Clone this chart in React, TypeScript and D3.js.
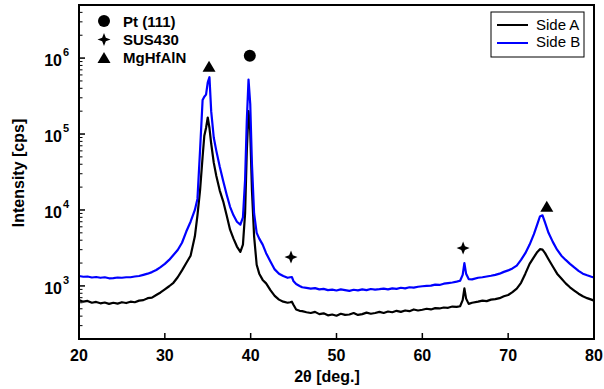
import React from "react";
import * as d3 from "d3";

// 2θ positions (deg.) shared by both scans
const twoTheta = [
  20, 20.5, 21, 21.5, 22, 22.5, 23, 23.5, 24, 24.5, 25, 25.5, 26, 26.5, 27, 27.5, 28, 28.5, 29, 29.5, 30, 30.5, 31,
  31.5, 32, 32.5, 33, 33.5, 33.8, 34.1, 34.4, 34.6, 34.8, 35.0, 35.2, 35.4, 35.7, 36.0, 36.4, 36.8, 37.2, 37.6, 38.0,
  38.4, 38.8, 39.1, 39.35, 39.55, 39.75, 39.95, 40.15, 40.4, 40.7, 41.0, 41.4, 41.8, 42.3, 42.8, 43.3, 43.8, 44.3,
  44.6, 44.8, 45.0, 45.3, 45.7,
  46, 46.5, 47, 47.5, 48, 48.5, 49, 49.5, 50, 50.5, 51, 51.5, 52, 52.5, 53, 53.5, 54, 54.5, 55, 55.5, 56, 56.5, 57,
  57.5, 58, 58.5, 59, 59.5, 60, 60.5, 61, 61.5, 62, 62.5, 63, 63.5, 64,
  64.4, 64.7, 64.9, 65.1, 65.4, 65.8, 66.5, 67, 67.5, 68, 68.5, 69, 69.5, 70, 70.5, 71,
  71.5, 72, 72.5, 73, 73.4, 73.7, 74.0, 74.3, 74.7, 75.2, 75.7, 76.2, 76.7, 77.2, 77.7, 78.2, 78.7, 79.2, 79.7, 80,
];

const sideA = [
  650, 620, 635, 600, 615, 590, 605, 580, 600, 585, 610, 595, 620, 610, 640, 650, 690, 700, 760, 820, 900, 990, 1100,
  1300, 1600, 2000, 2500, 4500, 8500, 18000, 50000, 95000, 120000, 165000, 120000, 75000, 42000, 28000, 18000, 13000,
  8500, 5500, 4200, 3300, 2800, 3500, 9000, 60000, 200000, 110000, 18000, 4500, 1900, 1450, 1200, 1080, 880, 740, 660,
  620, 600, 610, 620, 560, 490, 470,
  465, 450, 440, 455, 425, 435, 410, 420, 405, 430, 415, 420, 440, 415, 425, 445, 430, 440, 455, 440, 460, 450, 470,
  455, 475, 465, 490, 475, 485, 500, 490, 510, 505, 520, 515, 535, 530,
  540, 650, 930, 680, 580, 600, 620, 640, 630, 660, 670, 690, 730, 760, 830, 920,
  1100, 1450, 1950, 2400, 2800, 3050, 3000, 2700, 2250, 1800, 1450, 1250, 1080, 960, 870, 790, 730, 690, 660, 640,
];

const sideB = [
  1350, 1320, 1330, 1290, 1310, 1280, 1300, 1260, 1270, 1290, 1280, 1300, 1300, 1330, 1350, 1400, 1450, 1520, 1620,
  1770, 1950, 2200, 2550,
  2970, 3700, 5200, 7000, 10000, 14000, 60000, 280000, 310000, 330000, 480000, 560000, 200000, 90000, 60000, 37000,
  24000, 16000, 11000, 8500, 7000, 6400, 8000, 25000, 150000, 520000, 250000, 40000, 9000, 5000, 4200, 3500, 2700,
  2100, 1650, 1450, 1350, 1280, 1300, 1310, 1150, 1060, 1000,
  960, 940, 920, 935, 900, 915, 880, 895, 870, 900, 880, 860, 890, 875, 900, 880, 910, 895, 905, 920, 900, 930, 915,
  945, 930, 960, 950, 975, 990, 1000, 1010, 1040, 1030, 1070, 1090, 1110, 1140,
  1170, 1400, 2000, 1450, 1230, 1220, 1280, 1300, 1330, 1360, 1400, 1450, 1530, 1600, 1700, 1850,
  2200, 2700, 3500, 4800, 6500, 8200, 8500, 6800, 5000, 3800, 3000, 2500, 2200, 1950, 1750, 1580, 1450, 1380, 1320,
  1290,
];

const seriesNames = ["Side A", "Side B"];
const seriesColors = ["#000000", "#0000ff"];

// peak markers: phase, 2θ, intensity
const phases = ["Pt (111)", "SUS430", "MgHfAlN"];
const markerPhase = [2, 0, 1, 1, 2];
const markerTheta = [35.15, 39.9, 44.7, 64.75, 74.5];
const markerInt = [770000, 1070000, 2400, 3150, 11000];

const xTicks = [20, 30, 40, 50, 60, 70, 80];
const yDecades = [3, 4, 5, 6];

const W = 604;
const H = 389;
const m = { left: 79, right: 594, top: 5, bottom: 339 };
const font = "'Liberation Sans', Arial, sans-serif";

function starPath(r: number) {
  const pts: [number, number][] = [];
  for (let i = 0; i < 8; i++) pts.push([(i * Math.PI) / 4, i % 2 === 0 ? r : r * 0.4]);
  return d3.lineRadial().curve(d3.curveLinearClosed)(pts) || "";
}

function Marker({ kind, x, y }: { kind: number; x: number; y: number }) {
  if (kind === 0) return <circle cx={x} cy={y} r={6} fill="#000" />;
  if (kind === 1) return <path d={starPath(6.5)} transform={`translate(${x},${y})`} fill="#000" />;
  return <path d={`M${x},${y - 6}L${x + 6.5},${y + 5}L${x - 6.5},${y + 5}Z`} fill="#000" />;
}

export default function App() {
  const x = d3.scaleLinear().domain([20, 80]).range([m.left, m.right]);
  const y = d3.scaleLog().domain([200, 5e6]).range([m.bottom, m.top]);

  const line = d3
    .line<number>()
    .x((_, i) => x(twoTheta[i]))
    .y((d) => y(d));

  const minor: number[] = [];
  for (let e = 2; e <= 6; e++) {
    for (let k = 2; k <= 9; k++) {
      const v = k * Math.pow(10, e);
      if (v >= 200 && v <= 5e6) minor.push(v);
    }
  }

  return (
    <svg width={W} height={H} style={{ position: "absolute", left: 0, top: 0, background: "#fff" }} fontFamily={font}>
      {[sideA, sideB].map((s, i) => (
        <path key={i} d={line(s) || ""} fill="none" stroke={seriesColors[i]} strokeWidth={2.2} strokeLinejoin="round" />
      ))}

      {markerTheta.map((t, i) => (
        <Marker key={i} kind={markerPhase[i]} x={x(t)} y={y(markerInt[i])} />
      ))}

      {/* frame */}
      <rect x={m.left} y={m.top} width={m.right - m.left} height={m.bottom - m.top} fill="none" stroke="#000" strokeWidth={2} />

      {/* y ticks */}
      {yDecades.map((e) => (
        <g key={e}>
          <line x1={m.left} x2={m.left + 6} y1={y(Math.pow(10, e))} y2={y(Math.pow(10, e))} stroke="#000" strokeWidth={1.5} />
          <text x={62} y={y(Math.pow(10, e)) + 8} textAnchor="end" fontSize={16} fontWeight="bold">
            10
          </text>
          <text x={63} y={y(Math.pow(10, e)) - 2} fontSize={11} fontWeight="bold">
            {e}
          </text>
        </g>
      ))}
      {minor.map((v) => (
        <line key={v} x1={m.left} x2={m.left + 3.5} y1={y(v)} y2={y(v)} stroke="#000" strokeWidth={1} />
      ))}

      {/* x ticks */}
      {xTicks.map((t) => (
        <g key={t}>
          <line x1={x(t)} x2={x(t)} y1={m.bottom} y2={m.bottom - 6} stroke="#000" strokeWidth={1.5} />
          <text x={x(t)} y={361} textAnchor="middle" fontSize={16} fontWeight="bold">
            {t}
          </text>
        </g>
      ))}

      <text x={327} y={382} textAnchor="middle" fontSize={16} fontWeight="bold">
        2θ [deg.]
      </text>
      <text transform="translate(24,173) rotate(-90)" textAnchor="middle" fontSize={16} fontWeight="bold">
        Intensity [cps]
      </text>

      {/* phase key */}
      {phases.map((p, i) => (
        <g key={p}>
          <Marker kind={i} x={104} y={21 + i * 18.5} />
          <text x={123} y={27 + i * 18} fontSize={15} fontWeight="bold">
            {p}
          </text>
        </g>
      ))}

      {/* series legend */}
      <rect x={491} y={12} width={93} height={45} fill="#fff" stroke="#000" strokeWidth={1} />
      {seriesNames.map((n, i) => (
        <g key={n}>
          <line x1={497} x2={528} y1={25 + i * 18} y2={25 + i * 18} stroke={seriesColors[i]} strokeWidth={2} />
          <text x={536} y={30 + i * 17} fontSize={15}>
            {n}
          </text>
        </g>
      ))}
    </svg>
  );
}
